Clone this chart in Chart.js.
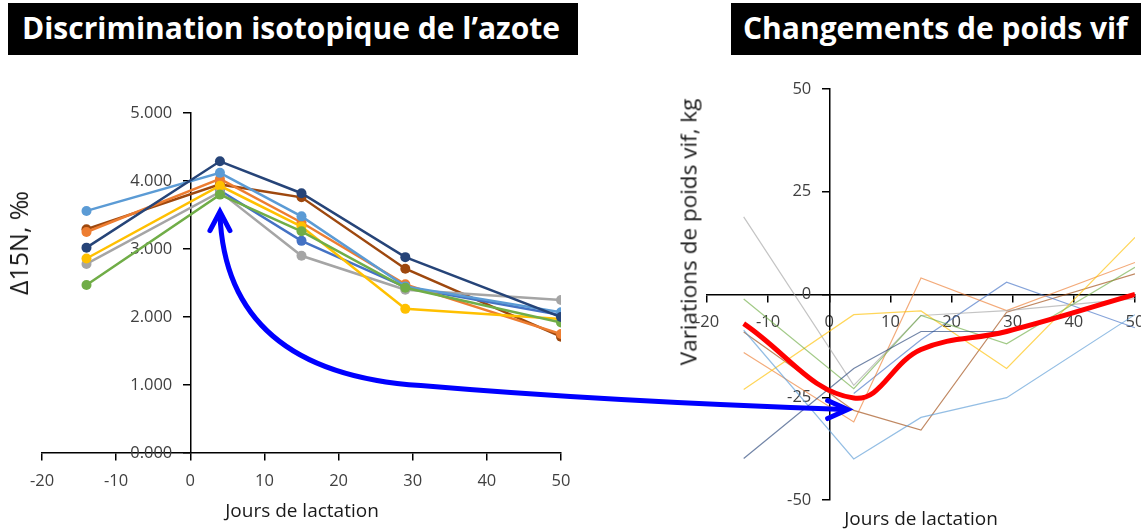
<!DOCTYPE html>
<html lang="fr">
<head>
<meta charset="utf-8">
<title>Discrimination isotopique de l’azote – Changements de poids vif</title>
<script src="https://cdn.jsdelivr.net/npm/chart.js@4.4.1/dist/chart.umd.min.js"></script>
<style>
  html, body { margin: 0; padding: 0; background: #fff; }
  body { width: 1141px; height: 529px; position: relative; overflow: hidden; font-family: "Open Sans", sans-serif; }
  canvas { position: absolute; top: 0; }
  #graph_n15 { left: 0; }
  #graph_pv { left: 600px; }
  #fleche { left: 0; pointer-events: none; }
  .bandeau { position: absolute; top: 3px; height: 52px; background: #000; color: #fff; font-weight: 700; font-size: 30px; line-height: 50px; white-space: nowrap; overflow: hidden; }
  #bandeau_n15 { left: 8px; width: 556px; padding-left: 14px; }
  #bandeau_pv { left: 731px; width: 400px; padding-left: 12px; }
  .titre_axe { position: absolute; white-space: nowrap; color: #1a1a1a; transform: translate(-50%, -50%); }
  .vertical { transform: translate(-50%, -50%) rotate(-90deg); }
</style>
</head>
<body>

<div class="bandeau" id="bandeau_n15">Discrimination isotopique de l’azote</div>
<div class="bandeau" id="bandeau_pv">Changements de poids vif</div>

<canvas id="graph_n15" width="600" height="529"></canvas>
<canvas id="graph_pv" width="560" height="529"></canvas>

<div class="titre_axe vertical" style="left:18px; top:243px; font-size:25px;">Δ15N, ‰</div>
<div class="titre_axe" style="left:302px; top:510px; font-size:19px;">Jours de lactation</div>
<div class="titre_axe vertical" style="left:688px; top:232px; font-size:22.5px;">Variations de poids vif, kg</div>
<div class="titre_axe" style="left:921px; top:518px; font-size:19px;">Jours de lactation</div>

<canvas id="fleche" width="1141" height="529"></canvas>

<script>
// jours de lactation des prélèvements
const jours = [-14, 4, 15, 29, 50];

// Δ15N (‰), une série par vache
const n15Bleu     = [null, 3.86, 3.12, 2.44, 2.03];
const n15Orange   = [3.25, 4.03, 3.39, 2.48, 1.75];
const n15Gris     = [2.78, 3.84, 2.90, 2.40, 2.25];
const n15Jaune    = [2.86, 3.93, 3.33, 2.12, 1.97];
const n15BleuClair= [3.56, 4.12, 3.48, 2.45, 2.07];
const n15Vert     = [2.47, 3.80, 3.26, 2.43, 1.92];
const n15Marine   = [3.02, 4.29, 3.82, 2.88, 2.00];
const n15Brun     = [3.29, 3.95, 3.76, 2.71, 1.71];

// variations de poids vif (kg), mêmes vaches
const pvBleu      = [null, -24.1, -11.0, 3.0, -8.1];
const pvOrange    = [-14.1, -31.0, 4.0, -3.9, 7.8];
const pvGris      = [18.9, -22.1, -5.1, -3.9, -1.0];
const pvJaune     = [-23.1, -4.9, -4.0, -18.0, 13.9];
const pvBleuClair = [-8.7, -40.0, -29.9, -25.1, -4.9];
const pvVert      = [-1.1, -22.9, -5.1, -12.0, 6.6];
const pvMarine    = [-39.9, -18.0, -9.0, -9.0, 0.0];
const pvBrun      = [-9.1, -28.2, -33.0, -4.3, 5.0];
const pvMoyenne   = [-7.1, -25.2, -13.4, -9.0, 0.0];

const couleurs = ['#4472C4', '#ED7D31', '#A5A5A5', '#FFC000', '#5B9BD5', '#70AD47', '#264478', '#9E480E'];
// ordre de tracé : le plus petit passe au-dessus
const plans    = [7, 6, 5, 4, 3, 2, 1, 9];
const seriesN15 = [n15Bleu, n15Orange, n15Gris, n15Jaune, n15BleuClair, n15Vert, n15Marine, n15Brun];
const seriesPv  = [pvBleu, pvOrange, pvGris, pvJaune, pvBleuClair, pvVert, pvMarine, pvBrun];

// bornes et pas des axes
const joursMin = -20, joursMax = 50, joursPas = 10;
const n15Min = 0, n15Max = 5, n15Pas = 1;
const pvMin = -50, pvMax = 50, pvPas = 25;

const policeGraduations = '16.5px "Open Sans"';
const couleurGraduations = '#404040';

function $(selector)
{
    return document.querySelector(selector);
}

function points(valeurs)
{
    return jours.map((j, i) => ({x: j, y: valeurs[i]})).filter(p => p.y !== null);
}

function axe(min, max, pas, position, ecart)
{
    return {
        type: 'linear', min: min, max: max, position: position,
        border: {display: true, color: '#000', width: 1.5},
        grid: {drawOnChartArea: false, drawTicks: true, tickLength: 7, color: '#000', lineWidth: 1.5},
        ticks: {
            stepSize: pas, autoSkip: false, maxRotation: 0, padding: ecart,
            color: couleurGraduations, font: {family: '"Open Sans"', size: 16.5},
            callback: v => String(v)
        }
    };
}

// un axe y placé sur x = 0 colle ses étiquettes à la ligne : on les écrit
// nous-mêmes, décalées à gauche de la graduation, avant les courbes
const etiquettesY = {
    id: 'etiquettesY',
    beforeDatasetsDraw(chart, args, opts) {
        const sx = chart.scales.x, sy = chart.scales.y;
        const ctx = chart.ctx;
        const bord = sx.getPixelForValue(0) - opts.decalage;
        ctx.save();
        ctx.font = policeGraduations;
        ctx.fillStyle = couleurGraduations;
        ctx.textAlign = 'right';
        ctx.textBaseline = 'middle';
        sy.ticks.forEach(t => ctx.fillText(opts.format(t.value), bord, sy.getPixelForValue(t.value)));
        ctx.restore();
    }
};

const options_communes = {
    responsive: false,
    animation: false,
    events: []
};

// Δ15N : lignes avec marqueurs
const axeYn15 = axe(n15Min, n15Max, n15Pas, {x: 0}, 0);
axeYn15.ticks.display = false;

const graphN15 = new Chart($('#graph_n15'), {
    type: 'line',
    data: {
        datasets: seriesN15.map((s, i) => ({
            data: points(s),
            borderColor: couleurs[i],
            backgroundColor: couleurs[i],
            borderWidth: 2.5,
            pointRadius: 5,
            pointBorderWidth: 0,
            tension: 0,
            order: plans[i]
        }))
    },
    options: Object.assign({}, options_communes, {
        layout: {padding: {left: 42, top: 113, right: 39, bottom: 76}},
        plugins: {
            legend: {display: false}, tooltip: {enabled: false},
            etiquettesY: {decalage: 18, format: v => v.toFixed(3)}
        },
        scales: {
            x: axe(joursMin, joursMax, joursPas, {y: 0}, 11),
            y: axeYn15
        }
    }),
    plugins: [etiquettesY]
});

// poids vif : vaches en traits fins, moyenne lissée en rouge par-dessus
const jeuxPv = [{
    data: points(pvMoyenne),
    borderColor: '#FF0000',
    borderWidth: 5,
    pointRadius: 0,
    tension: 0.4,
    order: 0
}].concat(seriesPv.map((s, i) => ({
    data: points(s),
    borderColor: couleurs[i] + 'A6',
    borderWidth: 1.2,
    pointRadius: 0,
    tension: 0,
    order: plans[i]
})));

const axeYpv = axe(pvMin, pvMax, pvPas, {x: 0}, 0);
axeYpv.ticks.display = false;

const graphPv = new Chart($('#graph_pv'), {
    type: 'line',
    data: {datasets: jeuxPv},
    options: Object.assign({}, options_communes, {
        layout: {padding: {left: 107, top: 89, right: 25, bottom: 29}},
        plugins: {
            legend: {display: false}, tooltip: {enabled: false},
            etiquettesY: {decalage: 18, format: v => String(v)}
        },
        scales: {
            x: axe(joursMin, joursMax, joursPas, {y: 0}, 11),
            y: axeYpv
        }
    }),
    plugins: [etiquettesY]
});

// flèche bleue reliant le pic de Δ15N au creux de poids vif
function dessiner_fleche()
{
    const ctx = $('#fleche').getContext('2d');
    const decalage = 600;
    const a = {x: graphN15.scales.x.getPixelForValue(4), y: graphN15.scales.y.getPixelForValue(3.55)};
    const b = {x: decalage + graphPv.scales.x.getPixelForValue(3), y: graphPv.scales.y.getPixelForValue(-28)};
    const m = {x: a.x + 0.32 * (b.x - a.x), y: b.y - 24};

    ctx.strokeStyle = '#0000FF';
    ctx.lineWidth = 5;
    ctx.lineCap = 'round';
    ctx.lineJoin = 'miter';

    ctx.beginPath();
    ctx.moveTo(a.x, a.y + 2);
    ctx.bezierCurveTo(a.x + 4, a.y + 115, a.x + 80, m.y - 8, m.x, m.y);
    ctx.bezierCurveTo(m.x + 140, m.y + 12, b.x - 148, b.y - 5, b.x - 2, b.y);
    ctx.stroke();

    // pointes ouvertes aux deux bouts
    ctx.beginPath();
    ctx.moveTo(a.x - 10, a.y + 19);
    ctx.lineTo(a.x, a.y);
    ctx.lineTo(a.x + 10, a.y + 19);
    ctx.stroke();

    ctx.beginPath();
    ctx.moveTo(b.x - 20, b.y - 9);
    ctx.lineTo(b.x, b.y);
    ctx.lineTo(b.x - 20, b.y + 9);
    ctx.stroke();
}

dessiner_fleche();
</script>
</body>
</html>
